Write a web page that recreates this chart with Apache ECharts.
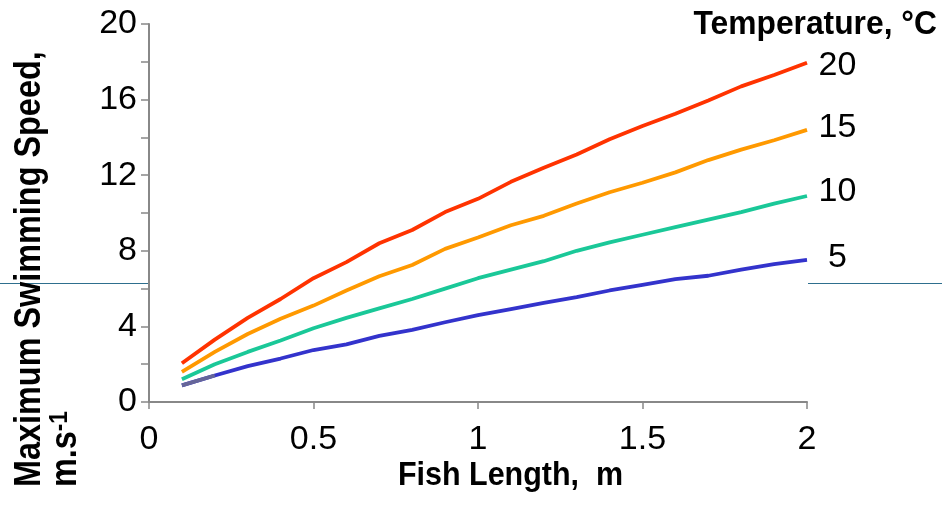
<!DOCTYPE html>
<html>
<head>
<meta charset="utf-8">
<style>
  html, body { margin: 0; padding: 0; background: #ffffff; }
  #chart { width: 942px; height: 508px; }
</style>
<script src="https://cdn.jsdelivr.net/npm/echarts@6/dist/echarts.min.js"></script>
</head>
<body>
<div id="chart"></div>
<script>
// ---- Data ----
const fishLength = [0.1, 0.2, 0.3, 0.4, 0.5, 0.6, 0.7, 0.8, 0.9, 1.0, 1.1, 1.2, 1.3, 1.4, 1.5, 1.6, 1.7, 1.8, 1.9, 2.0];
const temperatures = ['20', '15', '10', '5'];
const speed20 = [2.05, 3.3, 4.45, 5.45, 6.55, 7.4, 8.4, 9.1, 10.05, 10.75, 11.65, 12.4, 13.1, 13.9, 14.6, 15.25, 15.95, 16.7, 17.3, 17.95];
const speed15 = [1.6, 2.65, 3.6, 4.4, 5.1, 5.9, 6.65, 7.25, 8.1, 8.7, 9.35, 9.85, 10.5, 11.1, 11.6, 12.15, 12.8, 13.35, 13.85, 14.4];
const speed10 = [1.2, 2.0, 2.65, 3.25, 3.9, 4.45, 4.95, 5.45, 6.0, 6.55, 7.0, 7.45, 8.0, 8.45, 8.85, 9.25, 9.65, 10.05, 10.5, 10.9];
const speed5  = [0.88, 1.4, 1.9, 2.3, 2.75, 3.05, 3.5, 3.82, 4.22, 4.6, 4.92, 5.25, 5.55, 5.9, 6.2, 6.5, 6.68, 7.0, 7.3, 7.52];
const xTicks = [0, 0.5, 1, 1.5, 2];
const yTickLabels = [0, 4, 8, 12, 16, 20];

const seriesValues = [speed20, speed15, speed10, speed5];
const seriesColors = ['#ff3300', '#ff9900', '#1ac898', '#3333cc'];
const firstSegmentColor5 = '#666699';
const endLabelOffsets = [[30.5, 3], [30.5, -2], [30.5, -4], [30.5, -2]];

const FONT = "'Liberation Sans', Arial, sans-serif";

const chart = echarts.init(document.getElementById('chart'), null, { renderer: 'canvas' });

const series = seriesValues.map((vals, i) => ({
  name: temperatures[i],
  type: 'line',
  data: fishLength.map((x, j) => [x, vals[j]]),
  showSymbol: false,
  symbol: 'none',
  lineStyle: { width: 3.8, color: seriesColors[i], cap: 'butt', join: 'round' },
  itemStyle: { color: seriesColors[i] },
  endLabel: {
    show: true,
    formatter: temperatures[i],
    color: '#000',
    fontFamily: FONT,
    fontSize: 34,
    align: 'center',
    verticalAlign: 'middle',
    distance: 0,
    offset: endLabelOffsets[i]
  },
  z: 3
}));

// first segment of the 5 °C curve is drawn in a greyish tone in the reference
series.push({
  name: '5-start',
  type: 'line',
  data: fishLength.slice(0, 2).map((x, j) => [x, speed5[j]]),
  showSymbol: false,
  symbol: 'none',
  lineStyle: { width: 3.8, color: firstSegmentColor5, cap: 'butt' },
  itemStyle: { color: firstSegmentColor5 },
  z: 4
});

chart.setOption({
  animation: false,
  backgroundColor: '#ffffff',
  grid: { left: 149, right: 135, top: 24, bottom: 106, containLabel: false },
  xAxis: {
    type: 'value',
    min: 0, max: 2, interval: 0.5,
    axisLine: { show: true, lineStyle: { color: '#888888', width: 2 } },
    axisTick: { show: true, length: 7, inside: false, lineStyle: { color: '#888888', width: 1.5 } },
    splitLine: { show: false },
    axisLabel: {
      color: '#000', fontFamily: FONT, fontSize: 34, lineHeight: 34, margin: 21,
      formatter: v => xTicks.indexOf(v) >= 0 ? String(v) : ''
    }
  },
  yAxis: {
    type: 'value',
    min: 0, max: 20, interval: 2,
    axisLine: { show: true, lineStyle: { color: '#888888', width: 2 } },
    axisTick: { show: true, length: 8, inside: false, lineStyle: { color: '#888888', width: 1.5 } },
    splitLine: { show: false },
    axisLabel: {
      color: '#000', fontFamily: FONT, fontSize: 34, margin: 12,
      formatter: v => yTickLabels.indexOf(v) >= 0 ? String(v) : ''
    }
  },
  graphic: [
    { type: 'line', z: 0, shape: { x1: 0, y1: 283.5, x2: 148, y2: 283.5 }, style: { stroke: '#2e6f8e', lineWidth: 1 } },
    { type: 'line', z: 0, shape: { x1: 808, y1: 283.5, x2: 942, y2: 283.5 }, style: { stroke: '#2e6f8e', lineWidth: 1 } },
    {
      type: 'text', x: 12, y: 487, rotation: Math.PI / 2, scaleX: 0.9,
      style: {
        text: 'Maximum Swimming Speed,\nm.s{sup|-1}',
        font: "bold 36px " + FONT,
        fill: '#000', textAlign: 'left', textVerticalAlign: 'top', lineHeight: 36,
        rich: { sup: { fontSize: 25, fontWeight: 'bold', fontFamily: FONT, verticalAlign: 'top', lineHeight: 16, fill: '#000' } }
      }
    },
    {
      type: 'text', x: 510.5, y: 476, scaleX: 0.896,
      style: {
        text: 'Fish Length,  m',
        font: "bold 34px " + FONT,
        fill: '#000', textAlign: 'center', textVerticalAlign: 'middle'
      }
    },
    {
      type: 'text', x: 937, y: 24.2, scaleX: 0.935,
      style: {
        text: 'Temperature, °C',
        font: "bold 34px " + FONT,
        fill: '#000', textAlign: 'right', textVerticalAlign: 'middle'
      }
    }
  ],
  series: series
});
</script>
</body>
</html>
